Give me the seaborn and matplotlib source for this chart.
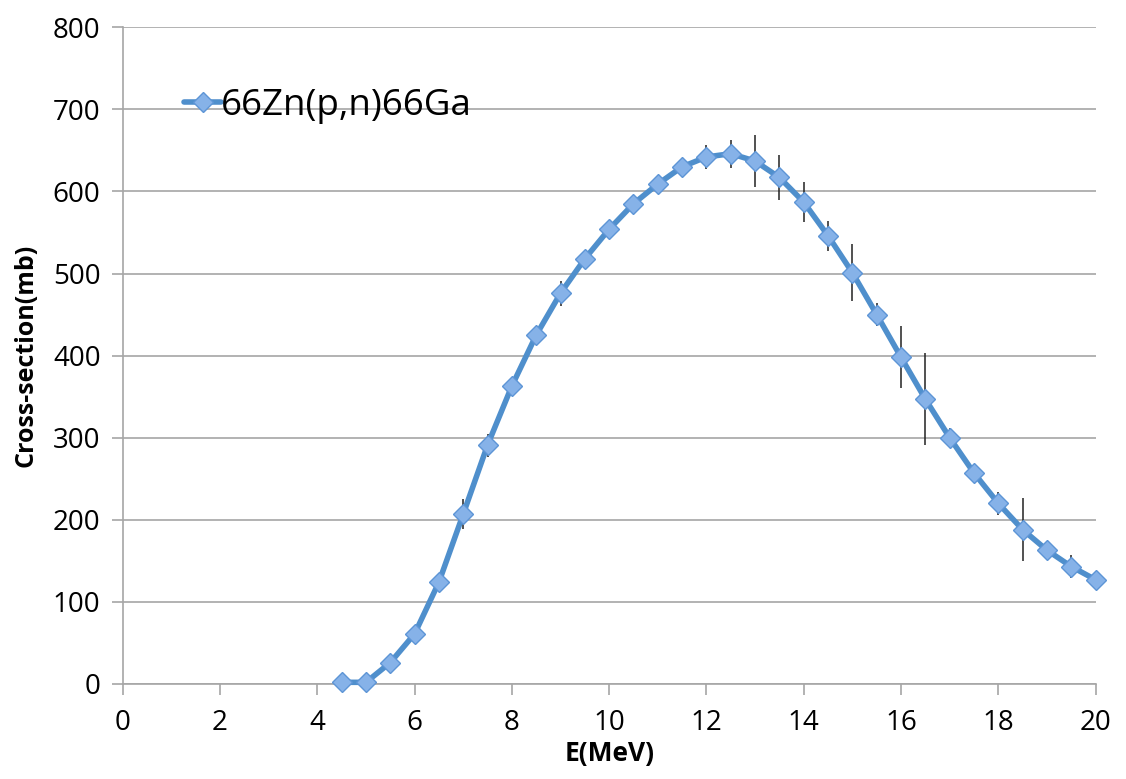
import pandas as pd
import seaborn as sns
import matplotlib.pyplot as plt
import numpy as np


# ===Data===
energy = [4.5, 5, 5.5, 6, 6.5, 7, 7.5, 8, 8.5, 9, 9.5, 10, 10.5, 11, 11.5,
          12, 12.5, 13, 13.5, 14, 14.5, 15, 15.5, 16, 16.5, 17, 17.5, 18,
          18.5, 19, 19.5, 20]
xsec = [2, 2, 26, 61, 124, 207, 291, 363, 425, 476, 518, 554, 585, 609, 630,
        642, 646, 637, 617, 587, 546, 501, 450, 398, 347, 300, 257, 220,
        188, 163, 143, 127]
# error bars only where they show up on the picture
err = [0, 0, 0, 0, 0, 18, 14, 0, 0, 15, 0, 0, 0, 0, 0,
       15, 17, 32, 28, 24, 18, 35, 14, 38, 56, 12, 0, 14,
       38, 0, 14, 0]
series_name = '66Zn(p,n)66Ga'

df = pd.DataFrame({'E': energy, 'sigma': xsec, 'err': err})

sns.set_theme(style='white')
plt.rcParams['font.family'] = ['Open Sans', 'DejaVu Sans']
plt.rcParams['text.color'] = 'black'
plt.rcParams['axes.labelcolor'] = 'black'

fig = plt.figure(figsize=(11.26, 7.79), dpi=100)
ax = fig.add_axes([0.109, 0.122, 0.864, 0.843])

# error bars first so the markers sit on top
has_err = df[df['err'] > 0]
ax.errorbar(has_err['E'], has_err['sigma'], yerr=has_err['err'],
            fmt='none', ecolor='#222222', elinewidth=1.1, capsize=0, zorder=2)

sns.lineplot(data=df, x='E', y='sigma', ax=ax, color='#4f8fcc',
             linewidth=4, marker='D', markersize=10.5,
             markerfacecolor='#86b2e8', markeredgecolor='#5d95d6',
             markeredgewidth=1, label=series_name, zorder=3, clip_on=False)

# ===Axes, in the old spreadsheet look===
ax.set_xlim(0, 20)
ax.set_ylim(0, 800)
ax.set_xticks(np.arange(0, 21, 2))
ax.set_yticks(np.arange(0, 801, 100))
ax.yaxis.grid(True, color='#a6a6a6', linewidth=1.2)
ax.xaxis.grid(False)
ax.set_axisbelow(True)

for side in ['top', 'right']:
    ax.spines[side].set_visible(False)
for side in ['left', 'bottom']:
    ax.spines[side].set_color('#a6a6a6')
    ax.spines[side].set_linewidth(1.2)

ax.tick_params(axis='both', which='major', direction='out', length=8,
               width=1.2, color='#a6a6a6', labelsize=20, labelcolor='black',
               bottom=True, left=True, pad=8)
ax.tick_params(axis='x', pad=10)

ax.set_xlabel('E(MeV)', fontsize=19, fontweight='bold', labelpad=2)
ax.set_ylabel('Cross-section(mb)', fontsize=18, fontweight='bold', labelpad=10)

leg = ax.legend(loc='upper left', bbox_to_anchor=(0.048, 0.93), frameon=False,
                fontsize=26.5, handlelength=1.0, handletextpad=0.0,
                borderaxespad=0)

fig.savefig('out.png', dpi=100)
